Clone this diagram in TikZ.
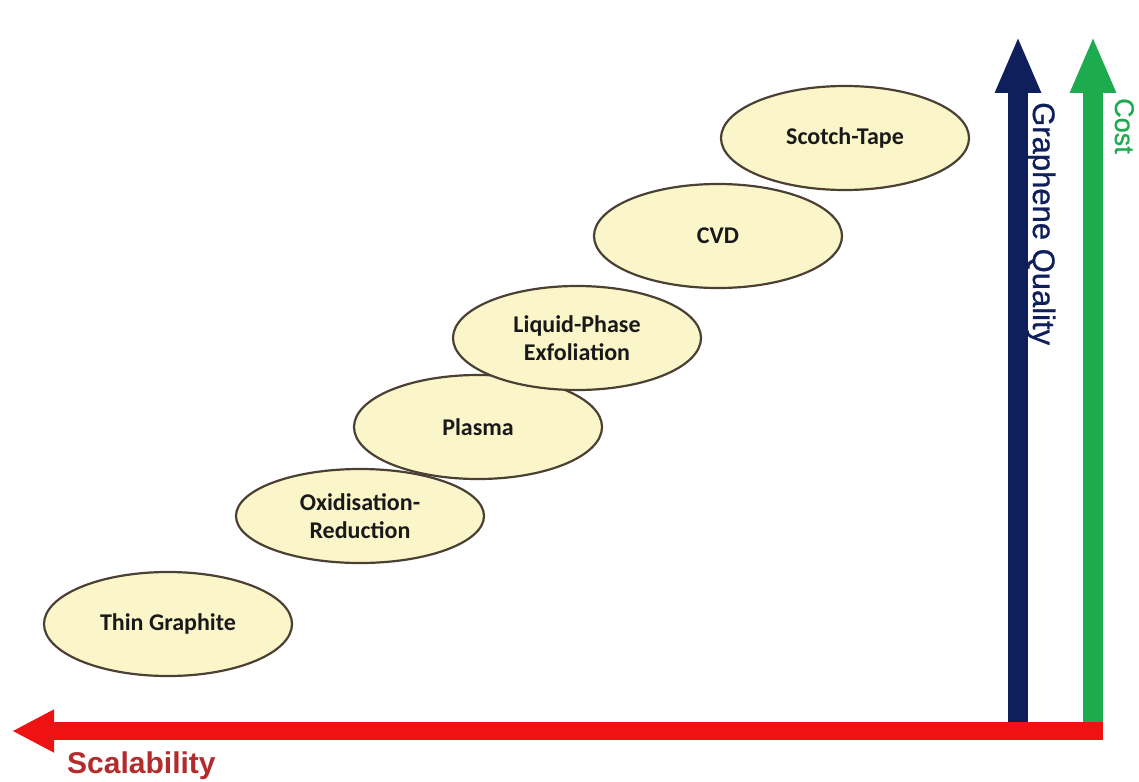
\documentclass[tikz,border=0pt]{standalone}
\usepackage{fontspec}
\newfontfamily\methodfont{Carlito}
\newfontfamily\axisfont{Liberation Sans}
\newfontfamily\axisfontheavy{Liberation Sans}[FakeBold=0.8]
\usetikzlibrary{shapes.geometric,arrows.meta}
\definecolor{methodfill}{HTML}{FBF6C9}
\definecolor{methodedge}{HTML}{4A4033}
\definecolor{qualityblue}{HTML}{0F1F5C}
\definecolor{costgreen}{HTML}{1EAB4F}
\definecolor{scalered}{HTML}{EE1212}
\definecolor{scaletext}{HTML}{B42B2B}
\tikzset{
  method/.style={ellipse, draw=methodedge, fill=methodfill, line width=2.2pt,
    inner sep=0pt, minimum width=248pt, minimum height=104pt, align=center,
    font=\methodfont\bfseries\fontsize{24}{28.5}\selectfont, text=black!90},
  upaxis/.style={line width=20pt, line cap=butt, -{Triangle[length=57pt,width=42pt]}},
  sideaxis/.style={line width=18pt, line cap=butt, -{Triangle[length=42pt,width=40pt]}},
  axislabel/.style={inner sep=0pt}
}
\begin{document}
\begin{tikzpicture}[x=1pt,y=-1pt]
  \useasboundingbox (0,0) rectangle (1139,781);
  \fill[white] (0,0) rectangle (1139,781);

  % preparation methods, from bulk to high quality
  \node[method] (thin)    at (168,624) {Thin Graphite};
  \node[method, minimum height=94pt] (oxred) at (360,516) {Oxidisation-\\Reduction};
  \node[method] (plasma)  at (478,427) {Plasma};
  \node[method] (liquid)  at (577,338) {Liquid-Phase\\Exfoliation};
  \node[method] (cvd)     at (718,236) {CVD};
  \node[method] (scotch)  at (845,138) {Scotch-Tape};

  % axis end points
  \coordinate (qbase) at (1018,722);
  \coordinate (qtip)  at (1018,36);
  \coordinate (cbase) at (1093,722);
  \coordinate (ctip)  at (1093,36);
  \coordinate (sbase) at (1103,731);
  \coordinate (stip)  at (12,731);

  % axes
  \draw[upaxis, qualityblue] (qbase) -- (qtip);
  \draw[upaxis, costgreen] (cbase) -- (ctip);
  \draw[sideaxis, scalered] (sbase) -- (stip);

  % axis labels
  \node[axislabel, text=qualityblue, font=\axisfontheavy\fontsize{31}{36}\selectfont,
        rotate=-90, anchor=base west] (qlabel) at (1033,102) {Graphene Quality};
  \node[axislabel, text=costgreen, font=\axisfontheavy\fontsize{27}{32}\selectfont,
        rotate=-90, anchor=base west] (clabel) at (1115,98) {Cost};
  \node[axislabel, text=scaletext, font=\axisfont\bfseries\fontsize{30}{34}\selectfont,
        anchor=base west] (slabel) at (67,773) {Scalability};
\end{tikzpicture}
\end{document}
